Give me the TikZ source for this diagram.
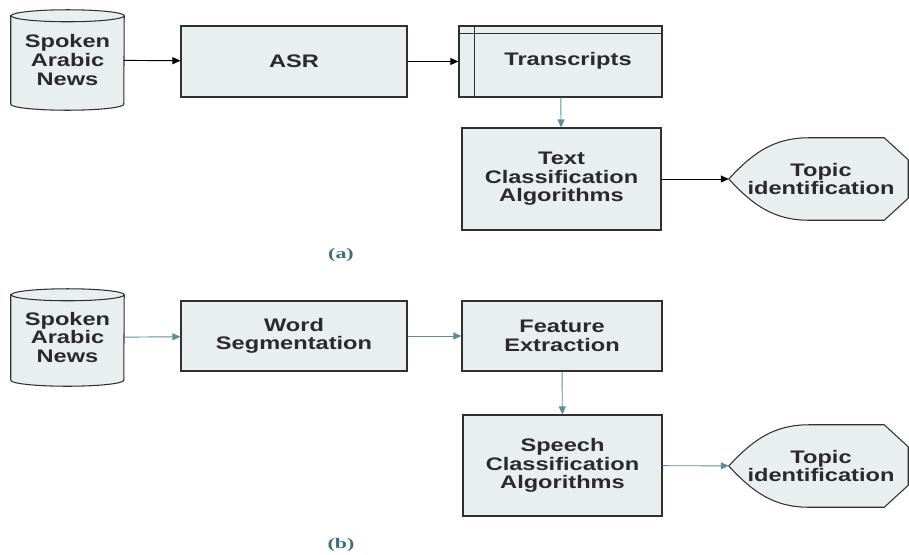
\documentclass[tikz,border=0pt]{standalone}
\usepackage{fontspec}
\newfontfamily\diagfont[FakeStretch=1.3]{Liberation Sans}
\newfontfamily\capfont[FakeStretch=1.5]{Liberation Serif}
\usetikzlibrary{arrows.meta,calc,backgrounds}

\definecolor{boxfill}{HTML}{E9EEEF}
\definecolor{boxline}{HTML}{303030}
\definecolor{tealline}{HTML}{5F8D97}
\definecolor{captext}{HTML}{3D6D84}
\definecolor{textdark}{HTML}{2A2A2A}

\tikzset{
  block/.style={draw=boxline, fill=boxfill, line width=0.9pt, inner sep=0pt, align=center,
    text=textdark, font=\diagfont\bfseries\fontsize{15.5}{15.8}\selectfont},
  holder/.style={inner sep=0pt, align=center,
    text=textdark, font=\diagfont\bfseries\fontsize{15.5}{15.8}\selectfont},
  outline/.style={draw=boxline, fill=boxfill, line width=0.9pt},
  blackarrow/.style={-{Triangle[length=0.24cm,width=0.21cm]}, line width=0.8pt, black},
  tealarrow/.style={-{Triangle[length=0.24cm,width=0.21cm]}, line width=0.8pt, tealline},
  caption/.style={text=captext, font=\capfont\bfseries\fontsize{12.5}{14}\selectfont}
}

% database drum behind a node
\newcommand{\drumout}[1]{%
  \begin{pgfonlayer}{background}
  \draw[outline] ($(#1.north west)+(0,6)$) -- ($(#1.south west)+(0,-6)$)
    arc[start angle=180, end angle=360, x radius=1.695cm, y radius=0.18cm]
    -- ($(#1.north east)+(0,6)$)
    arc[start angle=0, end angle=180, x radius=1.695cm, y radius=0.18cm] -- cycle;
  \draw[outline, fill=none] ($(#1.north east)+(0,6)$)
    arc[start angle=0, end angle=-180, x radius=1.695cm, y radius=0.18cm];
  \end{pgfonlayer}}

% display shape behind a node
\newcommand{\dispout}[1]{%
  \begin{pgfonlayer}{background}
  \draw[outline] (#1.west) .. controls ($(#1.west)+(24,-26)$) and ($(#1.north west)+(45,0)$) .. ($(#1.north west)+(80,0)$)
    -- ($(#1.north east)+(-24,0)$) -- ($(#1.north east)+(0,22)$)
    -- ($(#1.south east)+(0,-22)$) -- ($(#1.south east)+(-24,0)$)
    -- ($(#1.south west)+(80,0)$) .. controls ($(#1.south west)+(45,0)$) and ($(#1.west)+(24,26)$) .. (#1.west) -- cycle;
  \end{pgfonlayer}}

\begin{document}
\begin{tikzpicture}[x=0.03cm, y=-0.03cm]
  \useasboundingbox (0,0) rectangle (909,554);

  % (a) ASR then text classification
  \node[holder, minimum width=3.39cm, minimum height=3.0cm] (newsA) at (67.5,60) {Spoken\\Arabic\\News};
  \drumout{newsA}
  \node[block, minimum width=6.78cm, minimum height=2.13cm] (asr) at (294,61.5) {ASR};
  \node[block, line width=1.1pt, minimum width=6.09cm, minimum height=2.13cm] (trans) at (560.5,61.5)
    {\hspace*{0.45cm}\raisebox{0.13cm}{Transcripts}};
  \draw[boxline, line width=1.1pt] ([xshift=0.48cm]trans.north west) -- ([xshift=0.48cm]trans.south west);
  \draw[boxline, line width=1.1pt] ([yshift=-0.24cm]trans.north west) -- ([yshift=-0.24cm]trans.north east);
  \node[block, minimum width=5.97cm, minimum height=3.06cm] (tca) at (561.5,179) {Text\\Classification\\Algorithms};
  \node[holder, minimum width=5.37cm, minimum height=2.46cm] (topA) at (818.5,179) {\hspace*{0.15cm}Topic\\\hspace*{0.15cm}identification};
  \dispout{topA}

  \draw[blackarrow] (newsA) -- (asr);
  \draw[blackarrow] (asr) -- (trans);
  \draw[tealarrow] (trans) -- (tca);
  \draw[blackarrow] (tca) -- (topA);

  \node[caption] (capA) at (341,255) {(a)};

  % (b) direct speech classification
  \node[holder, minimum width=3.39cm, minimum height=2.91cm] (newsB) at (67.5,337.5) {Spoken\\Arabic\\News};
  \drumout{newsB}
  \node[block, minimum width=6.78cm, minimum height=2.1cm] (seg) at (294,336) {Word\\Segmentation};
  \node[block, minimum width=6.0cm, minimum height=2.1cm] (feat) at (562,336) {Feature\\Extraction};
  \node[block, minimum width=5.97cm, minimum height=3.03cm] (sca) at (562.5,465.5) {Speech\\Classification\\Algorithms};
  \node[holder, minimum width=5.37cm, minimum height=2.46cm] (topB) at (818.5,466) {\hspace*{0.15cm}Topic\\\hspace*{0.15cm}identification};
  \dispout{topB}

  \draw[tealarrow] (newsB) -- (seg);
  \draw[tealarrow] (seg) -- (feat);
  \draw[tealarrow] (feat) -- (sca);
  \draw[tealarrow] (sca) -- (topB);

  \node[caption] (capB) at (341,545) {(b)};
\end{tikzpicture}
\end{document}
